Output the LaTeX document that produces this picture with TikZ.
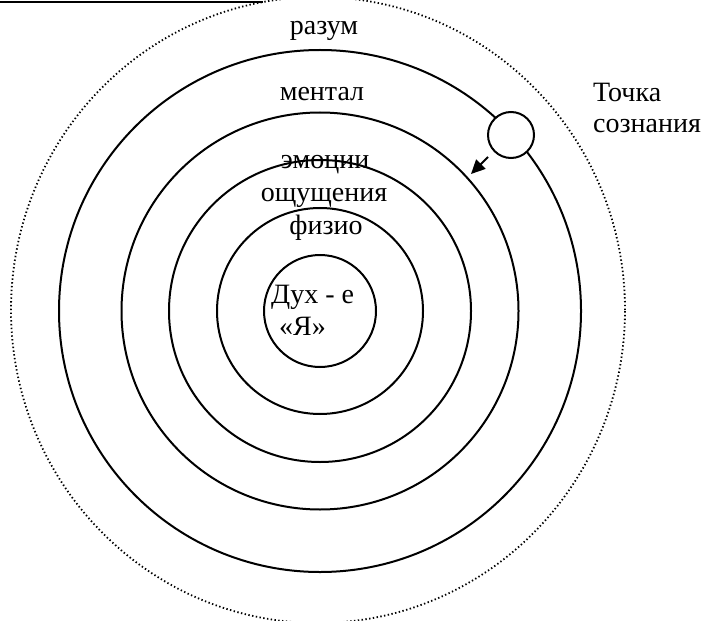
\documentclass[tikz,border=0pt]{standalone}
\usepackage{fontspec}
\setmainfont{Liberation Serif}
\usetikzlibrary{arrows.meta}
\begin{document}
\begin{tikzpicture}[x=1pt,y=-1pt,
  ring/.style={draw=black,line width=2pt},
  dotring/.style={draw=black,line width=1.8pt,dash pattern=on 1.4pt off 2.4pt},
  lbl/.style={inner sep=0pt,font=\fontsize{28}{32}\selectfont},
  dotmark/.style={draw=black,fill=white,line width=2pt}]
\useasboundingbox (0,0) rectangle (708,620);
\clip (0,0) rectangle (708,620);
\coordinate (c) at (320,311);
% outer dotted ring
\draw[dotring] (318,310) ellipse [x radius=307pt, y radius=313pt];
% solid rings
\draw[ring] (c) circle [radius=261pt];
\draw[ring] (c) circle [radius=198.5pt];
\draw[ring] (c) circle [radius=151pt];
\draw[ring] (c) circle [radius=103pt];
\draw[ring] (c) circle [radius=56pt];
% top rule
\coordinate (ruleA) at (0,2);
\coordinate (ruleB) at (263,2);
\draw[line width=2.6pt] (ruleA) -- (ruleB);
% point of consciousness
\node[dotmark,circle,minimum size=46pt,inner sep=0pt] (pt) at (511,135) {};
\coordinate (arrS) at (488,157);
\coordinate (arrE) at (471,174);
\draw[line width=2pt,-{Triangle[length=14pt,width=13pt]}] (arrS) -- (arrE);
% labels
\node[lbl,anchor=base] (razum) at (324,35) {разум};
\node[lbl,anchor=base] (mental) at (322,101) {ментал};
\node[lbl,anchor=base] (emo) at (325,169) {эмоции};
\node[lbl,anchor=base] (osh) at (324,201) {ощущения};
\node[lbl,anchor=base] (fiz) at (326,234) {физио};
\node[lbl,anchor=base west] (dukh) at (271,303) {Дух - е};
\node[lbl,anchor=base west] (ya) at (279,335) {«Я»};
\node[lbl,anchor=base west] (tochka) at (593,102) {Точка};
\node[lbl,anchor=base west] (soz) at (593,133) {сознания};
\end{tikzpicture}
\end{document}
